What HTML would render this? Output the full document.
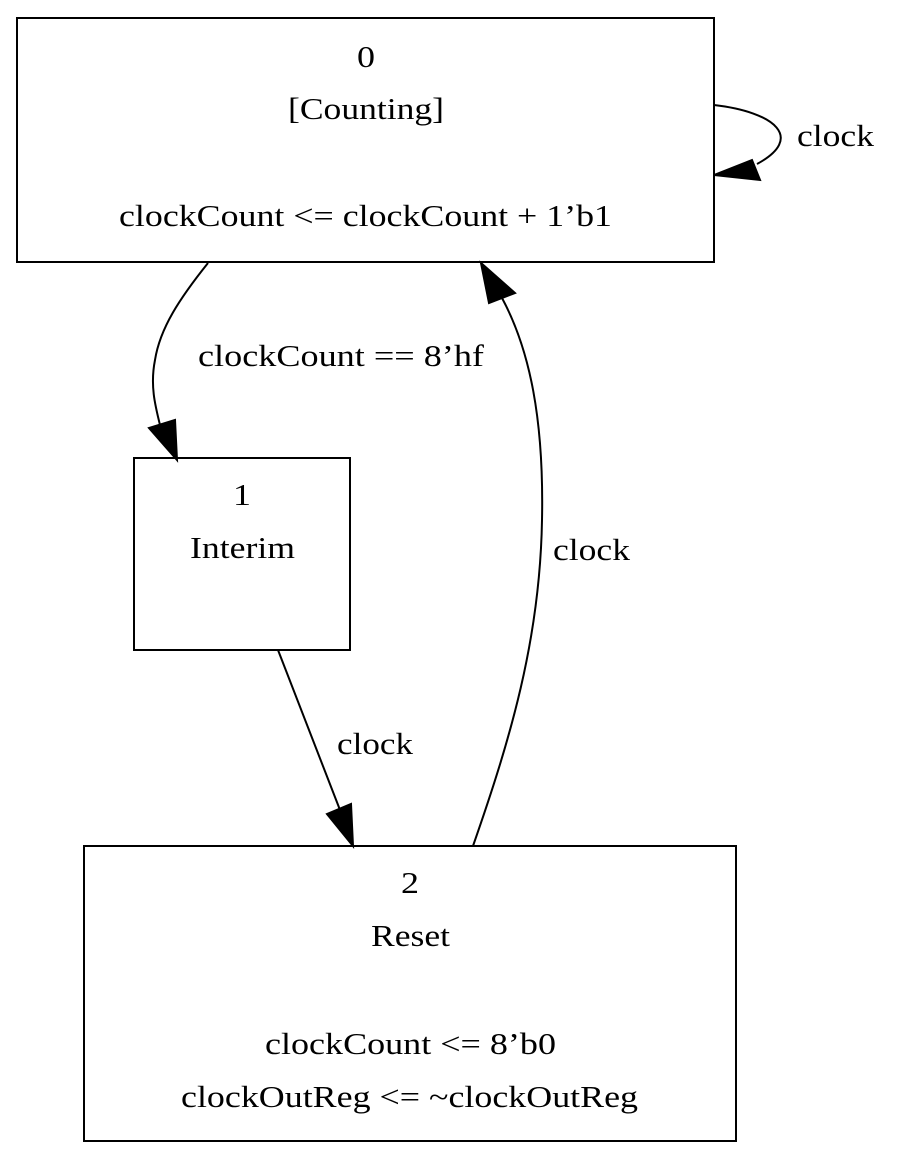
<!DOCTYPE html>
<html><head><meta charset="utf-8"><style>
html,body{margin:0;padding:0;background:#fff;}
svg{display:block;}
text{font-family:"Liberation Serif",serif;font-size:31px;fill:#000;}
</style></head><body>
<svg width="905" height="1161" viewBox="0 0 905 1161" xmlns="http://www.w3.org/2000/svg">
<g fill="none" stroke="#000" stroke-width="2">
<rect x="17" y="18" width="697" height="244"/>
<rect x="134" y="458" width="216" height="192"/>
<rect x="84" y="846" width="652" height="295"/>
<path d="M714,105 C775,112 805,138 757,164"/>
<path d="M208,263 C180,298 160,328 155,360 C150,385 155,405 160,425"/>
<path d="M278,650 L340,810"/>
<path d="M473,846 C510,740 540,640 542,520 C544,420 530,350 502,298"/>
</g>
<g fill="#000" stroke="#000" stroke-width="2">
<polygon points="714,175 752,160 760,180"/>
<polygon points="177,460 149,428 175,420"/>
<polygon points="353,846 327,814 351,804"/>
<polygon points="481,263 489,303 515,293"/>
</g>
<g lengthAdjust="spacingAndGlyphs">
<text x="357" y="67" textLength="18" lengthAdjust="spacingAndGlyphs">0</text>
<text x="288" y="119" textLength="156" lengthAdjust="spacingAndGlyphs">[Counting]</text>
<text x="119" y="226" textLength="493" lengthAdjust="spacingAndGlyphs">clockCount &lt;= clockCount + 1’b1</text>
<text x="233" y="505" textLength="18" lengthAdjust="spacingAndGlyphs">1</text>
<text x="190" y="558" textLength="105" lengthAdjust="spacingAndGlyphs">Interim</text>
<text x="401" y="893" textLength="18" lengthAdjust="spacingAndGlyphs">2</text>
<text x="371" y="946" textLength="79" lengthAdjust="spacingAndGlyphs">Reset</text>
<text x="265" y="1054" textLength="291" lengthAdjust="spacingAndGlyphs">clockCount &lt;= 8’b0</text>
<text x="181" y="1107" textLength="457" lengthAdjust="spacingAndGlyphs">clockOutReg &lt;= ~clockOutReg</text>
<text x="797" y="146" textLength="77" lengthAdjust="spacingAndGlyphs">clock</text>
<text x="198" y="366" textLength="286" lengthAdjust="spacingAndGlyphs">clockCount == 8’hf</text>
<text x="337" y="754" textLength="76" lengthAdjust="spacingAndGlyphs">clock</text>
<text x="553" y="560" textLength="77" lengthAdjust="spacingAndGlyphs">clock</text>
</g>
</svg>
</body></html>
